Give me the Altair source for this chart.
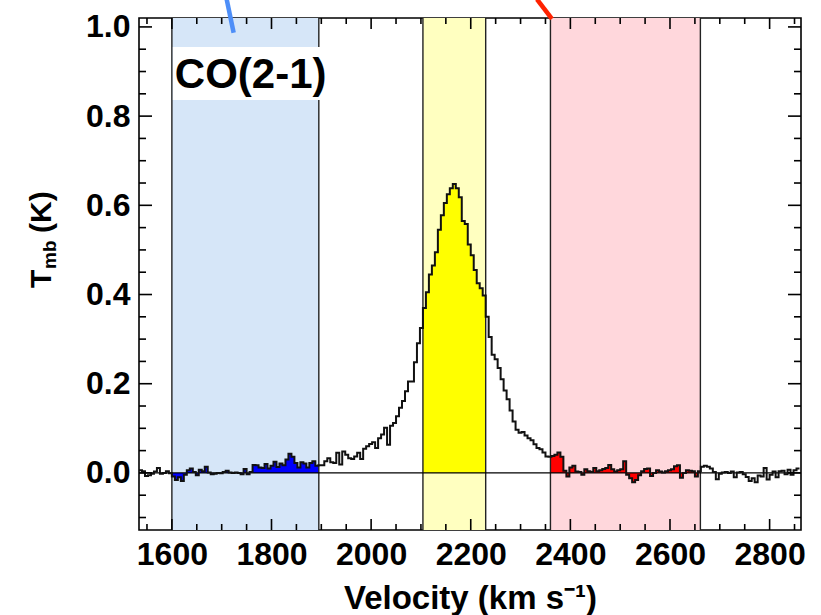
import altair as alt
import pandas as pd

# ---------------- data ----------------
V0 = 1534.0   # left edge of first channel (km/s)
DV = 6.0      # channel width (km/s)

seg_a = [0.006, 0.004, -0.007, -0.005, -0.002, 0.003, 0.011, -0.002, 0.000, 0.004, -0.001]
seg_b = [-0.008, -0.016, -0.010, -0.018, -0.004, 0.006, 0.010, 0.002, -0.005, 0.007,
         0.004, 0.014, 0.001, -0.003, -0.002, 0.000, -0.001, 0.002, 0.005, 0.001,
         0.000, 0.001, 0.000, -0.003, 0.009, -0.003, 0.002, 0.018, 0.017, 0.012,
         0.011, 0.020, 0.010, 0.016, 0.025, 0.013, 0.021, 0.017, 0.030, 0.043,
         0.036, 0.022, 0.012, 0.024, 0.021, 0.012, 0.022, 0.026, 0.016]
seg_c = [0.017, 0.017, 0.026, 0.033, 0.024, 0.022, 0.045, 0.019, 0.048, 0.041,
         0.033, 0.031, 0.037, 0.045, 0.031, 0.054, 0.060, 0.065, 0.069, 0.056,
         0.078, 0.086, 0.101, 0.063, 0.106, 0.112, 0.127, 0.146, 0.161, 0.183,
         0.205, 0.205, 0.248, 0.291, 0.325]
seg_d = [0.370, 0.405, 0.445, 0.465, 0.495, 0.545, 0.578, 0.605, 0.625, 0.638,
         0.648, 0.638, 0.618, 0.565, 0.558, 0.512, 0.488, 0.455, 0.425, 0.414, 0.398]
seg_e = [0.350, 0.305, 0.265, 0.255, 0.235, 0.210, 0.185, 0.165, 0.140, 0.115,
         0.097, 0.090, 0.092, 0.084, 0.078, 0.073, 0.064, 0.056, 0.053, 0.046,
         0.037, 0.036]
seg_f = [0.038, 0.041, 0.046, 0.036, 0.005, -0.008, 0.012, 0.016, 0.003, 0.002,
         -0.004, 0.008, 0.004, 0.002, 0.011, 0.004, 0.006, 0.009, 0.011, 0.018,
         0.008, 0.003, 0.006, 0.008, 0.026, -0.004, -0.012, -0.021, -0.016, -0.005,
         0.004, 0.009, 0.010, -0.007, 0.000, 0.006, 0.003, 0.001, 0.004, 0.006,
         0.008, 0.015, 0.017, -0.011, 0.000, 0.006, 0.005, 0.004, -0.008, 0.004]
seg_g = [0.014, 0.016, 0.014, 0.010, 0.002, -0.014, -0.002, 0.001, 0.002, 0.000,
         0.003, -0.010, 0.001, 0.002, -0.003, -0.009, -0.018, -0.012, -0.021, -0.006,
         -0.008, 0.011, -0.015, -0.004, 0.003, -0.010, 0.004, 0.005, -0.003, 0.007,
         -0.004, 0.006, 0.010]

tmb = seg_a + seg_b + seg_c + seg_d + seg_e + seg_f + seg_g

band_names = ["blue", "yellow", "red"]
band_lo = [1600, 2104, 2360]
band_hi = [1895, 2230, 2661]
band_light = ["#d6e6f8", "#ffffc0", "#ffd7dc"]
band_vivid = ["#0000ff", "#ffff00", "#ff0000"]

x_major = [1600, 1800, 2000, 2200, 2400, 2600, 2800]
y_major = [0.0, 0.2, 0.4, 0.6, 0.8, 1.0]

label_text = ["CO(2-1)"]

# ---------------- derived tables ----------------
W, H = 662, 512
X_DOM = [1534, 2863]
Y_DOM = [-0.128, 1.02]

edges = [V0 + DV * i for i in range(len(tmb) + 1)]
line_df = pd.DataFrame({"v": edges, "t": tmb + [tmb[-1]]})

rows = []
for name, lo, hi, col in zip(band_names, band_lo, band_hi, band_vivid):
    last = None
    for i, t in enumerate(tmb):
        a, b = edges[i], edges[i + 1]
        if b <= lo or a >= hi:
            continue
        rows.append({"band": name, "v": max(a, lo), "t": t, "vivid": col})
        last = t
    rows.append({"band": name, "v": hi, "t": last, "vivid": col})
fill_df = pd.DataFrame(rows)

bands_df = pd.DataFrame({"band": band_names, "lo": band_lo, "hi": band_hi, "light": band_light})
edge_df = pd.DataFrame({"v": band_lo + band_hi})
zero_df = pd.DataFrame({"t": [0.0]})

x_minor = [v for v in range(1550, 2851, 50) if v % 200 != 0]
y_minor = [round(-0.10 + 0.05 * k, 2) for k in range(23)]
y_minor = [v for v in y_minor if round(v / 0.2, 6) != round(v / 0.2)]
xmaj_df = pd.DataFrame({"v": x_major})
xmin_df = pd.DataFrame({"v": x_minor})
ymaj_df = pd.DataFrame({"t": y_major})
ymin_df = pd.DataFrame({"t": y_minor})

box_df = pd.DataFrame({"x1": [1602], "x2": [1897.5], "y1": [0.955], "y2": [0.836]})
lab_df = pd.DataFrame({"v": [1606], "t": [0.862], "txt": label_text})
deco_df = pd.DataFrame({
    "x1": [1710, 2333], "y1": [1.062, 1.062],
    "x2": [1724, 2363], "y2": [0.987, 1.018],
    "col": ["#4d8ef8", "#ff2200"],
})

# ---------------- chart ----------------
FONT = "Liberation Sans"
XS = alt.Scale(domain=X_DOM, nice=False, zero=False)
YS = alt.Scale(domain=Y_DOM, nice=False, zero=False)
XAX = alt.Axis(values=x_major, format="d", ticks=False, domain=False, grid=False,
               labelFont=FONT, labelFontSize=32, labelFontWeight="bold", labelColor="black",
               labelPadding=9, labelFlush=False, labelOverlap=False,
               title="Velocity (km s⁻¹)", titleFont=FONT, titleFontSize=33,
               titleFontWeight="bold", titleColor="black", titleBaseline="alphabetic", titleY=78)
YAX = alt.Axis(values=y_major, format=".1f", ticks=False, domain=False, grid=False,
               labelFont=FONT, labelFontSize=32, labelFontWeight="bold", labelColor="black",
               labelPadding=9, labelFlush=False, labelOverlap=False, title=None)


def X(f):
    return alt.X(f, scale=XS, axis=XAX)


def Y(f):
    return alt.Y(f, scale=YS, axis=YAX)


rect = alt.Chart(bands_df).mark_rect().encode(
    x=X("lo:Q"), x2="hi:Q", y=alt.value(0), y2=alt.value(H),
    color=alt.Color("light:N", scale=None))

area = alt.Chart(fill_df).mark_area(interpolate="step-after").encode(
    x=X("v:Q"), y=Y("t:Q"), y2=alt.datum(0),
    color=alt.Color("vivid:N", scale=None), detail="band:N")

edge = alt.Chart(edge_df).mark_rule(color="#222222", strokeWidth=1.4).encode(
    x=X("v:Q"), y=alt.value(0), y2=alt.value(H))

zero = alt.Chart(zero_df).mark_rule(color="black", strokeWidth=1.4).encode(
    y=Y("t:Q"), x=alt.value(0), x2=alt.value(W))

spec = alt.Chart(line_df).mark_line(interpolate="step-after", color="#111111", strokeWidth=2).encode(
    x=X("v:Q"), y=Y("t:Q"))

TW = 1.6
ticks = [
    alt.Chart(xmaj_df).mark_rule(color="black", strokeWidth=TW).encode(x=X("v:Q"), y=alt.value(H - 11), y2=alt.value(H)),
    alt.Chart(xmaj_df).mark_rule(color="black", strokeWidth=TW).encode(x=X("v:Q"), y=alt.value(0), y2=alt.value(11)),
    alt.Chart(xmin_df).mark_rule(color="black", strokeWidth=TW).encode(x=X("v:Q"), y=alt.value(H - 6), y2=alt.value(H)),
    alt.Chart(xmin_df).mark_rule(color="black", strokeWidth=TW).encode(x=X("v:Q"), y=alt.value(0), y2=alt.value(6)),
    alt.Chart(ymaj_df).mark_rule(color="black", strokeWidth=TW).encode(y=Y("t:Q"), x=alt.value(0), x2=alt.value(13)),
    alt.Chart(ymaj_df).mark_rule(color="black", strokeWidth=TW).encode(y=Y("t:Q"), x=alt.value(W - 13), x2=alt.value(W)),
    alt.Chart(ymin_df).mark_rule(color="black", strokeWidth=TW).encode(y=Y("t:Q"), x=alt.value(0), x2=alt.value(7)),
    alt.Chart(ymin_df).mark_rule(color="black", strokeWidth=TW).encode(y=Y("t:Q"), x=alt.value(W - 7), x2=alt.value(W)),
]

box = alt.Chart(box_df).mark_rect(color="white").encode(
    x=X("x1:Q"), x2="x2:Q", y=Y("y1:Q"), y2="y2:Q")
lab = alt.Chart(lab_df).mark_text(align="left", baseline="alphabetic", font=FONT, fontSize=42,
                                  fontWeight="bold", color="black").encode(
    x=X("v:Q"), y=Y("t:Q"), text="txt:N")

deco = alt.Chart(deco_df).mark_rule(strokeWidth=4.5).encode(
    x=X("x1:Q"), y=Y("y1:Q"), x2="x2:Q", y2="y2:Q", color=alt.Color("col:N", scale=None))

one = pd.DataFrame({"a": [0]})
ytitle = [
    alt.Chart(one).mark_text(angle=270, align="left", baseline="alphabetic", font=FONT, fontSize=30,
                             fontWeight="bold", color="black").encode(
        x=alt.value(-88), y=alt.value(270), text=alt.value("T")),
    alt.Chart(one).mark_text(angle=270, align="left", baseline="alphabetic", font=FONT, fontSize=19,
                             fontWeight="bold", color="black").encode(
        x=alt.value(-83), y=alt.value(251), text=alt.value("mb")),
    alt.Chart(one).mark_text(angle=270, align="left", baseline="alphabetic", font=FONT, fontSize=30,
                             fontWeight="bold", color="black").encode(
        x=alt.value(-88), y=alt.value(215), text=alt.value("(K)")),
]

chart = alt.layer(rect, area, edge, zero, spec, *ticks, box, lab, deco, *ytitle).properties(
    width=W, height=H,
    padding={"left": 139, "top": 18, "right": 20, "bottom": 85},
    autosize=alt.AutoSizeParams(type="none"),
    background="white",
).configure_view(stroke="black", strokeWidth=1.6)

chart.save("out.html", embed_options={"renderer": "svg", "actions": False})
